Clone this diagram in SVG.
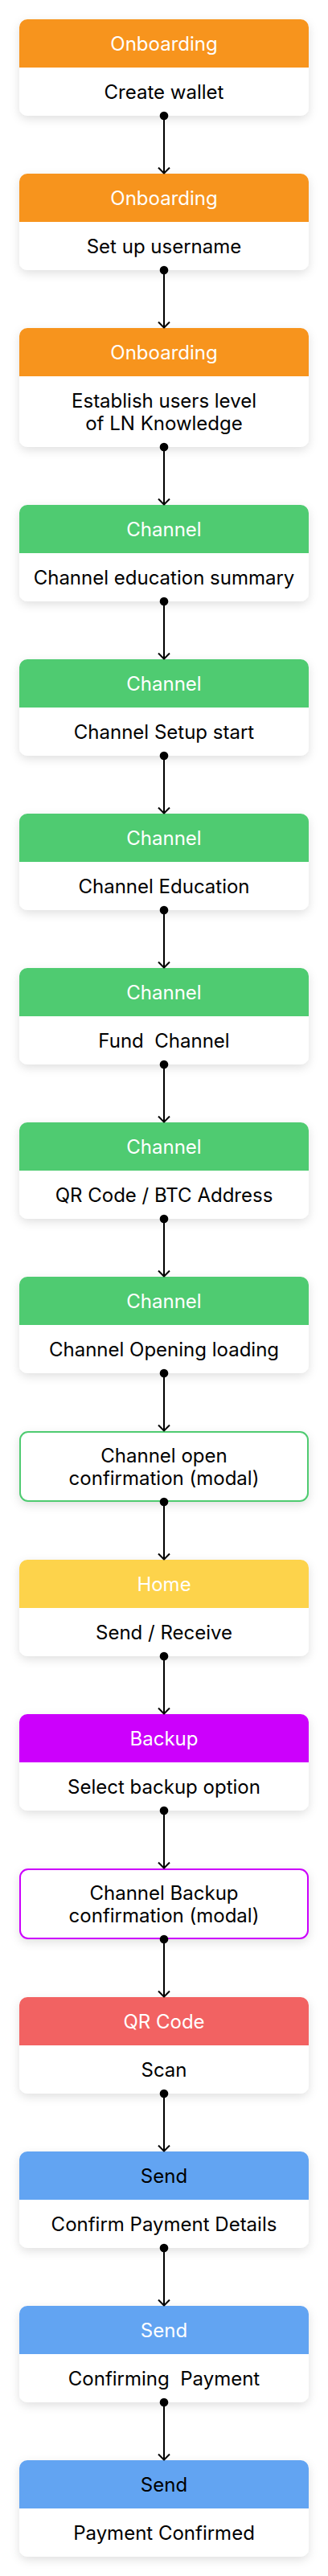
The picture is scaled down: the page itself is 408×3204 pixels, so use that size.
<svg xmlns="http://www.w3.org/2000/svg" width="408" height="3204" viewBox="0 0 408 3204">
<style>
text{font-family:Inter,"Noto Sans","Liberation Sans",sans-serif;font-size:24px;text-anchor:middle}
.hd{fill:#ffffff}
.hk{fill:#000000}
.bd{fill:#000000}
.card{fill:#ffffff;filter:url(#sh)}
.or{fill:#F7941D}
.gr{fill:#4FCB71}
.ye{fill:#FDD34B}
.pu{fill:#CC00FC}
.re{fill:#F26262}
.bl{fill:#62A4F2}
.mg{fill:#ffffff;stroke:#4FCB71;stroke-width:2;filter:url(#sh)}
.mp{fill:#ffffff;stroke:#CC00FC;stroke-width:2;filter:url(#sh)}
.ln{stroke:#000000;stroke-width:2;fill:none;marker-start:url(#dot);marker-end:url(#arr)}
</style>
<defs>
<filter id="sh" x="-10%" y="-20%" width="120%" height="150%">
<feDropShadow dx="0" dy="4" stdDeviation="6" flood-color="#000000" flood-opacity="0.12"/>
</filter>
<marker id="dot" markerUnits="userSpaceOnUse" markerWidth="12" markerHeight="12" refX="6" refY="6" orient="auto" overflow="visible">
<circle cx="6" cy="6" r="5.3" fill="#000000"/>
</marker>
<marker id="arr" markerUnits="userSpaceOnUse" markerWidth="18" markerHeight="18" refX="9" refY="9" orient="0" overflow="visible">
<polyline points="2,1.5 9,8.5 16,1.5" fill="none" stroke="#000000" stroke-width="2" stroke-linejoin="round"/>
</marker>
</defs>
<rect width="408" height="3204" fill="#ffffff"/>

<g id="n1">
<rect class="card" x="24" y="24" width="360" height="120" rx="10"/>
<path class="or" d="M24 84V34A10 10 0 0 1 34 24H374A10 10 0 0 1 384 34V84Z"/>
<text class="hd" x="204" y="62.5">Onboarding</text>
<text class="bd" x="204" y="123">Create wallet</text>
</g>
<g id="n2">
<rect class="card" x="24" y="216" width="360" height="120" rx="10"/>
<path class="or" d="M24 276V226A10 10 0 0 1 34 216H374A10 10 0 0 1 384 226V276Z"/>
<text class="hd" x="204" y="254.5">Onboarding</text>
<text class="bd" x="204" y="315">Set up username</text>
</g>
<g id="n3">
<rect class="card" x="24" y="408" width="360" height="148" rx="10"/>
<path class="or" d="M24 468V418A10 10 0 0 1 34 408H374A10 10 0 0 1 384 418V468Z"/>
<text class="hd" x="204" y="446.5">Onboarding</text>
<text class="bd" x="204" y="506.5">Establish users level</text>
<text class="bd" x="204" y="535">of LN Knowledge</text>
</g>
<g id="n4">
<rect class="card" x="24" y="628" width="360" height="120" rx="10"/>
<path class="gr" d="M24 688V638A10 10 0 0 1 34 628H374A10 10 0 0 1 384 638V688Z"/>
<text class="hd" x="204" y="666.5">Channel</text>
<text class="bd" x="204" y="727">Channel education summary</text>
</g>
<g id="n5">
<rect class="card" x="24" y="820" width="360" height="120" rx="10"/>
<path class="gr" d="M24 880V830A10 10 0 0 1 34 820H374A10 10 0 0 1 384 830V880Z"/>
<text class="hd" x="204" y="858.5">Channel</text>
<text class="bd" x="204" y="919">Channel Setup start</text>
</g>
<g id="n6">
<rect class="card" x="24" y="1012" width="360" height="120" rx="10"/>
<path class="gr" d="M24 1072V1022A10 10 0 0 1 34 1012H374A10 10 0 0 1 384 1022V1072Z"/>
<text class="hd" x="204" y="1050.5">Channel</text>
<text class="bd" x="204" y="1111">Channel Education</text>
</g>
<g id="n7">
<rect class="card" x="24" y="1204" width="360" height="120" rx="10"/>
<path class="gr" d="M24 1264V1214A10 10 0 0 1 34 1204H374A10 10 0 0 1 384 1214V1264Z"/>
<text class="hd" x="204" y="1242.5">Channel</text>
<text class="bd" x="204" y="1303" xml:space="preserve">Fund  Channel</text>
</g>
<g id="n8">
<rect class="card" x="24" y="1396" width="360" height="120" rx="10"/>
<path class="gr" d="M24 1456V1406A10 10 0 0 1 34 1396H374A10 10 0 0 1 384 1406V1456Z"/>
<text class="hd" x="204" y="1434.5">Channel</text>
<text class="bd" x="204" y="1495">QR Code / BTC Address</text>
</g>
<g id="n9">
<rect class="card" x="24" y="1588" width="360" height="120" rx="10"/>
<path class="gr" d="M24 1648V1598A10 10 0 0 1 34 1588H374A10 10 0 0 1 384 1598V1648Z"/>
<text class="hd" x="204" y="1626.5">Channel</text>
<text class="bd" x="204" y="1687">Channel Opening loading</text>
</g>
<g id="n10">
<rect class="mg" x="25" y="1781" width="358" height="86" rx="10"/>
<text class="bd" x="204" y="1819.3">Channel open</text>
<text class="bd" x="204" y="1847.3">confirmation (modal)</text>
</g>
<g id="n11">
<rect class="card" x="24" y="1940" width="360" height="120" rx="10"/>
<path class="ye" d="M24 2000V1950A10 10 0 0 1 34 1940H374A10 10 0 0 1 384 1950V2000Z"/>
<text class="hd" x="204" y="1978.5">Home</text>
<text class="bd" x="204" y="2039">Send / Receive</text>
</g>
<g id="n12">
<rect class="card" x="24" y="2132" width="360" height="120" rx="10"/>
<path class="pu" d="M24 2192V2142A10 10 0 0 1 34 2132H374A10 10 0 0 1 384 2142V2192Z"/>
<text class="hd" x="204" y="2170.5">Backup</text>
<text class="bd" x="204" y="2231">Select backup option</text>
</g>
<g id="n13">
<rect class="mp" x="25" y="2325" width="358" height="86" rx="10"/>
<text class="bd" x="204" y="2363.3">Channel Backup</text>
<text class="bd" x="204" y="2391.3">confirmation (modal)</text>
</g>
<g id="n14">
<rect class="card" x="24" y="2484" width="360" height="120" rx="10"/>
<path class="re" d="M24 2544V2494A10 10 0 0 1 34 2484H374A10 10 0 0 1 384 2494V2544Z"/>
<text class="hd" x="204" y="2522.5">QR Code</text>
<text class="bd" x="204" y="2583">Scan</text>
</g>
<g id="n15">
<rect class="card" x="24" y="2676" width="360" height="120" rx="10"/>
<path class="bl" d="M24 2736V2686A10 10 0 0 1 34 2676H374A10 10 0 0 1 384 2686V2736Z"/>
<text class="hk" x="204" y="2714.5">Send</text>
<text class="bd" x="204" y="2775">Confirm Payment Details</text>
</g>
<g id="n16">
<rect class="card" x="24" y="2868" width="360" height="120" rx="10"/>
<path class="bl" d="M24 2928V2878A10 10 0 0 1 34 2868H374A10 10 0 0 1 384 2878V2928Z"/>
<text class="hd" x="204" y="2906.5">Send</text>
<text class="bd" x="204" y="2967" xml:space="preserve">Confirming  Payment</text>
</g>
<g id="n17">
<rect class="card" x="24" y="3060" width="360" height="120" rx="10"/>
<path class="bl" d="M24 3120V3070A10 10 0 0 1 34 3060H374A10 10 0 0 1 384 3070V3120Z"/>
<text class="hk" x="204" y="3098.5">Send</text>
<text class="bd" x="204" y="3159">Payment Confirmed</text>
</g>

<g id="connectors">
<path class="ln" d="M204 144V216"/>
<path class="ln" d="M204 336V408"/>
<path class="ln" d="M204 556V628"/>
<path class="ln" d="M204 748V820"/>
<path class="ln" d="M204 940V1012"/>
<path class="ln" d="M204 1132V1204"/>
<path class="ln" d="M204 1324V1396"/>
<path class="ln" d="M204 1516V1588"/>
<path class="ln" d="M204 1708V1780"/>
<path class="ln" d="M204 1868V1940"/>
<path class="ln" d="M204 2060V2132"/>
<path class="ln" d="M204 2252V2324"/>
<path class="ln" d="M204 2412V2484"/>
<path class="ln" d="M204 2604V2676"/>
<path class="ln" d="M204 2796V2868"/>
<path class="ln" d="M204 2988V3060"/>
</g>
</svg>
